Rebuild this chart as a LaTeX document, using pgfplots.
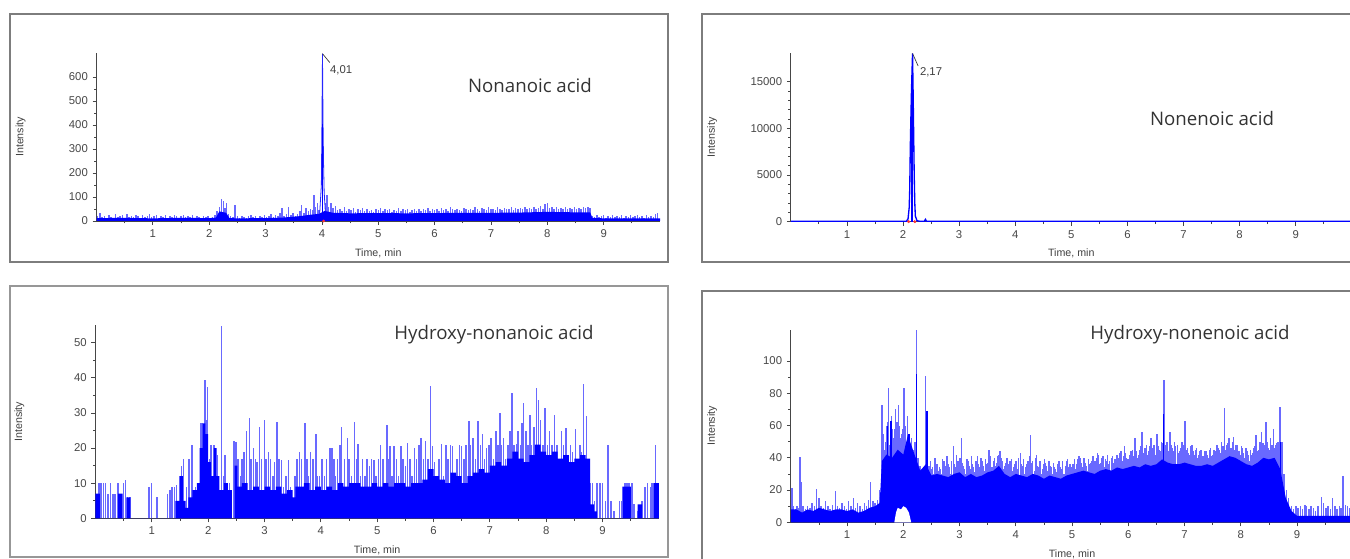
\documentclass[border=0pt]{standalone}
\usepackage{fontspec}
\setmainfont{Liberation Sans}
\newfontfamily\titlefont{Open Sans}
\usepackage{pgfplots}
\pgfplotsset{compat=1.18}
\definecolor{axgray}{RGB}{70,70,70}
\definecolor{framegray}{RGB}{125,125,125}
\definecolor{spike}{RGB}{105,105,255}
\pgfplotsset{chrom/.style={
  scale only axis, anchor=south west,
  axis x line*=bottom, axis y line*=left,
  axis line style={-, draw=axgray, line width=0.9pt},
  xmin=0, xmax=10, ymin=0,
  xtick={1,...,9}, minor xtick={0.5,1.5,...,9.5},
  tick align=outside,
  major tick length=3pt, minor tick length=1.8pt,
  tick style={axgray, line width=0.6pt},
  tick label style={font=\fontsize{8.5}{10}\selectfont, text=black!72},
  /pgf/number format/assume math mode=true,
  scaled y ticks=false,
  yticklabel style={/pgf/number format/.cd, fixed, 1000 sep={}},
  xlabel={Time, min}, ylabel={Intensity},
  label style={font=\fontsize{8}{9}\selectfont, text=black!75},
  xlabel style={at={([yshift=-24pt]axis description cs:0.5,0)}, anchor=center},
  ylabel style={at={([xshift=-57pt]axis description cs:0,0.5)}, anchor=center},
}}
\begin{document}
\begin{tikzpicture}
\path[use as bounding box] (0,0) rectangle (1012.5pt,419.25pt);
\draw[framegray, line width=0.9pt] (7.5pt,222.75pt) rectangle (501pt,408.75pt);
\draw[framegray, line width=0.9pt] (526.5pt,222.75pt) rectangle (1030pt,408.75pt);
\draw[framegray!80, line width=0.9pt] (7.5pt,1.5pt) rectangle (501pt,204.75pt);
\draw[framegray, line width=0.9pt] (526.5pt,-10pt) rectangle (1030pt,201pt);

% ---------------- Panel 1: Nonanoic acid
\begin{axis}[chrom, at={(72.4pt,253.5pt)}, width=422.6pt, height=126pt,
  ymax=700, ytick={0,100,...,600}, minor y tick num=1]
\addplot[ycomb, spike, line width=1.1pt] coordinates {
(0.02,20)(0.06,35)(0.1,15)(0.14,22)(0.18,12)(0.22,25)(0.26,18)(0.3,14)(0.34,28)(0.38,16)(0.42,20)(0.46,24)(0.5,13)(0.54,30)(0.58,18)(0.62,22)(0.66,15)(0.7,26)(0.74,19)(0.78,14)(0.82,24)(0.86,17)(0.9,21)(0.94,28)(0.98,15)(1.02,20)(1.06,25)(1.1,13)(1.14,22)(1.18,18)(1.22,27)(1.26,14)(1.3,20)(1.34,16)(1.38,24)(1.42,19)(1.46,13)(1.5,22)(1.54,26)(1.58,15)(1.62,20)(1.66,17)(1.7,23)(1.74,14)(1.78,21)(1.82,18)(1.86,12)(1.9,19)(1.94,16)(1.98,22)(2.02,14)(2.06,18)(2.1,25)(2.14,40)(2.18,60)(2.22,90)(2.25,82)(2.28,55)(2.31,75)(2.34,30)(2.38,20)(2.42,15)(2.46,68)(2.5,20)(2.54,14)(2.58,22)(2.62,18)(2.66,12)(2.7,20)(2.74,25)(2.78,15)(2.82,19)(2.86,13)(2.9,22)(2.94,17)(2.98,24)(3.02,15)(3.06,20)(3.1,28)(3.14,18)(3.18,25)(3.22,20)(3.26,35)(3.29,53)(3.33,22)(3.37,30)(3.41,60)(3.45,25)(3.49,32)(3.53,20)(3.57,28)(3.61,40)(3.64,67)(3.68,35)(3.72,55)(3.76,40)(3.8,50)(3.83,45)(3.86,108)(3.89,60)(3.92,74)(3.95,45)
(4.06,75)(4.09,110)(4.12,60)(4.16,74)(4.2,55)(4.24,62)(4.28,45)(4.32,50)(4.36,42)(4.4,58)(4.44,40)(4.48,52)(4.52,44)(4.56,55)(4.6,38)(4.64,48)(4.68,45)(4.72,54)(4.76,40)(4.8,50)(4.84,42)(4.88,46)(4.92,38)(4.96,52)(5.0,44)(5.04,56)(5.08,40)(5.12,48)(5.16,45)(5.2,52)(5.24,38)(5.28,46)(5.32,42)(5.36,55)(5.4,40)(5.44,48)(5.48,44)(5.52,50)(5.56,38)(5.6,46)(5.64,52)(5.68,42)(5.72,48)(5.76,40)(5.8,50)(5.84,45)(5.88,55)(5.92,42)(5.96,48)(6.0,44)(6.04,52)(6.08,40)(6.12,56)(6.16,46)(6.2,50)(6.24,42)(6.28,58)(6.32,48)(6.36,44)(6.4,52)(6.44,46)(6.48,40)(6.52,55)(6.56,48)(6.6,44)(6.64,52)(6.68,46)(6.72,60)(6.76,48)(6.8,42)(6.84,55)(6.88,50)(6.92,46)(6.96,58)(7.0,48)(7.04,52)(7.08,44)(7.12,60)(7.16,50)(7.2,46)(7.24,55)(7.28,48)(7.32,52)(7.36,58)(7.4,46)(7.44,54)(7.48,50)(7.52,56)(7.56,48)(7.6,60)(7.64,52)(7.68,55)(7.72,48)(7.76,58)(7.8,50)(7.84,54)(7.88,62)(7.92,52)(7.96,70)(8.0,77)(8.04,56)(8.08,60)(8.12,52)(8.16,58)(8.2,50)(8.24,55)(8.28,48)(8.32,60)(8.36,52)(8.4,56)(8.44,50)(8.48,58)(8.52,52)(8.56,55)(8.6,50)(8.64,58)(8.68,54)(8.72,60)(8.76,56)
(8.8,22)(8.84,18)(8.88,24)(8.92,15)(8.96,20)(9.0,26)(9.04,14)(9.08,22)(9.12,18)(9.16,25)(9.2,15)(9.24,20)(9.28,17)(9.32,24)(9.36,13)(9.4,21)(9.44,18)(9.48,26)(9.52,15)(9.56,20)(9.6,23)(9.64,16)(9.68,22)(9.72,14)(9.76,25)(9.8,18)(9.84,21)(9.88,15)(9.92,28)(9.96,33)};
\addplot[fill=blue, draw=none] coordinates {(0,12)(0.5,13)(1,11)(1.5,13)(2.0,12)(2.12,14)(2.18,40)(2.3,34)(2.36,12)(2.5,11)(3.0,12)(3.3,14)(3.6,20)(3.8,26)(3.95,30)(4.05,42)(4.2,34)(4.5,32)(5,33)(5.5,32)(6,33)(6.5,34)(7,34)(7.5,35)(8,38)(8.5,36)(8.76,36)(8.8,13)(9,11)(10,11)} \closedcycle;
\addplot[blue!85, line width=0.6pt] coordinates {(3.96,30)(3.99,150)(4.0,400)(4.01,697)(4.02,405)(4.03,230)(4.04,120)(4.06,40)};
\addplot[ycomb, blue, line width=1pt] coordinates {(4.01,405)};
\addplot[only marks, mark=*, mark size=0.8pt, red!80] coordinates {(4.03,0)};
\draw[black!80, line width=0.5pt] (axis cs:4.01,697) -- (axis cs:4.14,660);
\node[font=\fontsize{8.5}{10}\selectfont, text=black!75] at (axis cs:4.34,630) {4,01};
\end{axis}

% ---------------- Panel 2: Nonenoic acid
\begin{axis}[chrom, at={(593.1pt,253pt)}, width=420.75pt, height=126.5pt,
  ymax=18100, ytick={0,5000,10000,15000}, minor y tick num=4,
  ylabel style={at={([xshift=-59pt]axis description cs:0,0.5)}, anchor=center}]
\addplot[blue, line width=1pt] coordinates {(0,40)(2.06,40)(2.09,300)(2.11,1500)(2.12,3500)(2.13,8000)(2.14,11000)(2.15,13800)(2.16,16000)(2.17,18050)(2.18,14000)(2.19,9500)(2.2,5000)(2.21,2000)(2.22,600)(2.25,100)(2.3,40)(2.38,40)(2.4,250)(2.42,40)(10,40)};
\addplot[ycomb, blue, line width=1.2pt] coordinates {(2.155,13800)};
\addplot[only marks, mark=*, mark size=0.9pt, red!80] coordinates {(2.1,0)(2.21,0)};
\draw[black!80, line width=0.5pt] (axis cs:2.17,18050) -- (axis cs:2.27,16700);
\node[font=\fontsize{8.5}{10}\selectfont, text=black!75] at (axis cs:2.5,16050) {2,17};
\end{axis}

% ---------------- Panel 3: Hydroxy-nonanoic acid
\begin{axis}[chrom, at={(71.6pt,30.5pt)}, width=422.6pt, height=144.9pt,
  ymax=55, ytick={0,10,...,50}, minor y tick num=1]
\addplot[ycomb, spike, line width=1.1pt] coordinates {
(0.03,7)(0.06,10)(0.1,10)(0.14,10)(0.18,10)(0.22,7)(0.27,10)(0.31,7)(0.35,7)(0.4,10)(0.44,7)(0.5,10)(0.53,11)(0.57,6)(0.61,6)(0.95,9)(0.99,10)(1.09,6)(1.28,7)(1.32,8)(1.36,9)(1.4,9)(1.44,9.5)(1.5,12)(1.53,15)(1.56,17)(1.62,9)(1.66,17)(1.71,21)(1.74,8)(1.78,9)(1.82,10)(1.86,27)(1.89,27)(1.94,39.4)(1.96,28)(1.99,37.5)(2.02,17)(2.05,21)(2.1,20.8)(2.13,12)(2.17,18)(2.24,54.7)(2.27,12)(2.3,18)(2.34,9)(2.38,10)(2.46,22)(2.49,21.7)(2.53,17)(2.57,12)(2.6,17)(2.64,19)(2.68,25)(2.73,28.5)(2.76,17)(2.8,20)(2.84,17)(2.87,16)(2.91,26)(2.95,17)(3.0,28)(3.03,17)(3.07,19)(3.11,17)(3.15,12)(3.18,16)(3.22,27.5)(3.26,17)(3.3,16.6)(3.34,9)(3.38,12)(3.43,16.6)(3.46,9)(3.54,12)(3.58,17)(3.62,19)(3.66,17)(3.72,27)(3.75,17)(3.78,12)(3.82,19)(3.86,17)(3.91,24)(3.94,12)(3.98,12)(4.02,17)(4.06,12)(4.1,17)(4.16,20)(4.2,20)(4.23,17)(4.26,12)(4.3,17)(4.34,21)(4.37,26)(4.42,17)(4.47,22.8)(4.5,17)(4.54,12)(4.6,27.5)(4.63,17)(4.66,21.3)(4.7,12)(4.74,17)(4.78,12)(4.82,17)(4.86,15)(4.9,17)(4.94,16.6)(4.98,12)(5.02,17)(5.06,21)(5.1,17)(5.17,26.7)(5.2,17)(5.23,20.7)(5.26,12)(5.3,20.7)(5.34,17)(5.38,12)(5.42,20.7)(5.46,17)(5.5,15)(5.54,21.5)(5.58,17)(5.62,12)(5.66,20)(5.7,17)(5.74,21)(5.78,23)(5.82,17)(5.86,22)(5.9,17)(5.95,37.7)(5.98,20.7)(6.02,16)(6.06,12)(6.1,17)(6.14,21.3)(6.18,12)(6.22,21)(6.26,17)(6.3,21)(6.34,20.7)(6.38,12)(6.42,17)(6.46,21)(6.5,20.7)(6.54,17)(6.58,21)(6.63,27.7)(6.66,21)(6.7,23)(6.74,17)(6.79,27.7)(6.83,21)(6.87,24)(6.9,17)(6.94,20)(6.98,21)(7.02,23)(7.06,17)(7.11,24.9)(7.14,21)(7.18,30)(7.21,21)(7.24,22.8)(7.28,17)(7.32,21)(7.36,25)(7.39,35.6)(7.43,21)(7.47,21.3)(7.5,25)(7.54,21)(7.57,27)(7.6,32.9)(7.64,25)(7.68,21)(7.71,29.4)(7.74,21)(7.78,26)(7.83,37)(7.86,33.7)(7.9,28)(7.94,21)(7.98,31.3)(8.02,21)(8.06,25)(8.1,21)(8.15,29.4)(8.19,21)(8.23,17)(8.27,25)(8.31,21)(8.35,25.8)(8.39,17)(8.43,21)(8.47,19)(8.52,25.3)(8.56,17)(8.6,21)(8.63,19)(8.66,38.2)(8.71,29)(8.74,17)(8.78,10)(8.82,10)(8.86,5)(8.9,10)(8.95,10)(9.0,10)(9.05,5)(9.1,21)(9.15,5)(9.2,2)(9.3,5)(9.34,5)(9.4,10)(9.43,10)(9.47,10)(9.52,10)(9.56,4)(9.62,2)(9.7,5)(9.75,9)(9.8,10)(9.85,9)(9.88,10)(9.94,21)(9.97,10)};
\addplot[const plot, fill=blue, draw=none] coordinates {(0,7)(0.08,0)(0.4,7)(0.48,0)(0.55,6)(0.62,0)(1.42,5)(1.5,12)(1.55,5)(1.6,3)(1.65,6)(1.72,8)(1.8,10)(1.85,20)(1.9,27)(1.95,24)(2.0,16)(2.05,12)(2.1,20)(2.15,12)(2.2,8)(2.28,10)(2.35,8)(2.42,0)(2.47,15)(2.52,9)(2.6,10)(2.7,8)(2.8,9)(2.9,8)(3.0,9)(3.1,8)(3.2,9)(3.3,7)(3.4,8)(3.5,6)(3.55,9)(3.7,10)(3.8,8)(3.9,9)(4.0,8)(4.1,9)(4.2,8)(4.3,10)(4.4,9)(4.5,10)(4.6,10)(4.7,9)(4.8,9)(4.9,10)(5.0,9)(5.1,10)(5.2,9)(5.3,10)(5.4,10)(5.5,9)(5.6,10)(5.7,10)(5.8,11)(5.9,14)(6.0,12)(6.1,11)(6.2,10)(6.3,13)(6.4,12)(6.5,10)(6.6,12)(6.7,13)(6.8,14)(6.9,13)(7.0,15)(7.1,16)(7.2,15)(7.3,17)(7.4,19)(7.5,17)(7.6,16)(7.7,18)(7.8,21)(7.9,19)(8.0,18)(8.1,19)(8.2,17)(8.3,18)(8.4,16)(8.5,17)(8.6,18)(8.7,17)(8.78,4)(8.85,2)(8.9,0)(9.35,9)(9.5,0)(9.62,4)(9.7,0)(9.9,10)(10,10)} \closedcycle;
\end{axis}

% ---------------- Panel 4: Hydroxy-nonenoic acid
\begin{axis}[chrom, at={(593.1pt,27.5pt)}, width=421.9pt, height=144.6pt,
  ymax=119.5, ytick={0,20,...,100}, minor y tick num=1,
  ylabel style={at={([xshift=-59pt]axis description cs:0,0.5)}, anchor=center}]
\addplot[ycomb, spike, line width=1.1pt] coordinates {
(0.02,21)(0.05,10)(0.08,8)(0.11,10)(0.14,9)(0.16,40.7)(0.19,25)(0.22,10)(0.26,8)(0.3,10)(0.34,9)(0.38,12)(0.42,10)(0.46,20.6)(0.5,15)(0.54,10)(0.58,9)(0.62,13)(0.66,10)(0.7,8)(0.74,11)(0.79,19.6)(0.83,10)(0.87,9)(0.91,12)(0.95,10)(0.99,8)(1.03,13)(1.07,10)(1.11,15)(1.15,9)(1.19,12)(1.23,10)(1.27,8)(1.31,12)(1.35,10)(1.38,14)(1.42,25)(1.46,13)(1.5,12)(1.54,14)(1.58,20)(1.62,73)(1.66,45)(1.7,60)(1.74,83)(1.77,50)(1.8,58)(1.83,42)(1.86,70)(1.89,62)(1.91,73)(1.94,48)(1.97,55)(2.0,65)(2.01,83.5)(2.04,55)(2.07,66)(2.1,50)(2.13,45)(2.16,42)(2.19,38)(2.23,119)(2.26,40)(2.3,35)(2.34,30)(2.39,91)(2.42,69)(2.46,35)(2.5,33)(2.54,30)(2.58,36)(2.62,32)(2.64,34)(2.68,30)(2.72,38)(2.76,32)(2.8,36)(2.84,30)(2.89,47)(2.93,34)(2.97,38)(3.03,52)(3.07,35)(3.11,30)(3.15,38)(3.19,33)(3.23,36)(3.27,31)(3.32,41)(3.36,34)(3.4,38)(3.44,32)(3.48,36)(3.52,45)(3.56,33)(3.6,38)(3.64,35)(3.7,42)(3.74,40)(3.78,33)(3.82,37)(3.86,30)(3.9,38)(3.94,32)(3.98,36)(4.03,33)(4.08,43)(4.12,35)(4.16,30)(4.2,36)(4.26,54)(4.3,38)(4.33,32)(4.37,42)(4.41,34)(4.45,30)(4.49,36)(4.53,37)(4.57,32)(4.61,35)(4.65,30)(4.68,34)(4.72,31)(4.77,38)(4.81,33)(4.86,30)(4.9,38)(4.94,34)(4.98,31)(5.02,36)(5.06,33)(5.1,39)(5.15,40)(5.19,34)(5.23,37)(5.27,32)(5.31,36)(5.35,38)(5.39,34)(5.45,43)(5.49,36)(5.53,40)(5.57,34)(5.61,38)(5.65,36)(5.7,40)(5.74,37)(5.78,35)(5.85,43)(5.89,38)(5.93,47)(5.97,40)(6.01,36)(6.05,44)(6.09,41)(6.12,52)(6.16,40)(6.2,45)(6.24,56)(6.28,42)(6.32,48)(6.36,44)(6.4,52)(6.44,46)(6.48,42)(6.51,55)(6.55,45)(6.59,50)(6.63,88)(6.67,48)(6.71,44)(6.74,56)(6.78,46)(6.82,50)(6.87,48)(6.91,44)(6.95,50)(7.01,63)(7.05,46)(7.09,42)(7.13,48)(7.19,45)(7.23,40)(7.27,44)(7.31,38)(7.34,41)(7.38,44)(7.42,40)(7.46,46)(7.5,42)(7.54,44)(7.58,48)(7.62,45)(7.66,50)(7.71,71)(7.75,48)(7.79,52)(7.83,46)(7.87,53)(7.91,48)(7.95,44)(7.99,42)(8.03,46)(8.07,40)(8.11,44)(8.15,38)(8.19,42)(8.23,46)(8.27,54)(8.31,45)(8.34,50)(8.37,56)(8.41,48)(8.45,62)(8.49,46)(8.53,52)(8.58,58)(8.62,48)(8.66,50)(8.7,71.5)(8.73,50)(8.77,30)(8.81,20)(8.85,15)(8.9,10)(8.94,8)(8.98,10)(9.02,9)(9.06,10)(9.1,8)(9.14,11)(9.17,10)(9.21,8)(9.25,10)(9.29,9)(9.33,7)(9.37,10)(9.43,16)(9.47,12)(9.51,9)(9.55,10)(9.59,8)(9.63,15)(9.67,10)(9.71,8)(9.75,10)(9.78,9)(9.82,28.7)(9.86,11)(9.9,10)(9.94,9)(9.98,10)};
\addplot[ycomb, spike, line width=1.1pt] coordinates {
(1.64,55)(1.68,50)(1.72,62)(1.76,48)(1.79,66)(1.82,52)(1.85,58)(1.88,50)(1.93,60)(1.96,52)(1.99,58)(2.03,60)(2.06,50)(2.09,55)(2.12,48)(2.15,52)(2.18,45)(2.21,50)
(2.48,38)(2.52,34)(2.56,40)(2.6,36)(2.66,33)(2.7,39)(2.74,35)(2.78,41)(2.82,34)(2.86,38)(2.91,36)(2.95,42)(2.99,35)(3.01,40)(3.05,37)(3.09,33)(3.13,39)(3.17,35)(3.21,41)(3.25,34)(3.29,38)(3.34,36)(3.38,40)(3.42,35)(3.46,39)(3.5,37)(3.54,41)(3.58,34)(3.62,40)(3.66,37)(3.68,41)(3.72,44)(3.76,38)(3.8,35)(3.84,40)(3.88,36)(3.92,39)(3.96,34)(4.0,38)(4.05,40)(4.1,36)(4.14,39)(4.18,34)(4.22,38)(4.24,41)(4.28,37)(4.35,40)(4.39,35)(4.43,38)(4.47,33)(4.51,39)(4.55,35)(4.59,38)(4.63,34)(4.67,37)(4.7,33)(4.74,36)(4.79,34)(4.83,38)(4.88,35)(4.92,39)(4.96,36)(5.0,34)(5.04,39)(5.08,36)(5.12,41)(5.17,37)(5.21,40)(5.25,35)(5.29,39)(5.33,37)(5.37,41)(5.41,38)(5.43,40)(5.47,42)(5.51,37)(5.55,41)(5.59,39)(5.63,42)(5.67,38)(5.72,41)(5.76,39)(5.8,42)(5.83,40)(5.87,44)(5.91,41)(5.95,43)(5.99,39)(6.03,42)(6.07,45)(6.1,40)(6.14,44)(6.18,42)(6.22,47)(6.26,43)(6.3,46)(6.34,42)(6.38,47)(6.42,44)(6.46,48)(6.5,43)(6.53,47)(6.57,44)(6.61,49)(6.65,46)(6.69,50)(6.73,45)(6.76,48)(6.8,44)(6.84,47)(6.89,43)(6.93,46)(6.97,44)(6.99,48)(7.03,45)(7.07,43)(7.11,47)(7.15,44)(7.17,42)(7.21,46)(7.25,42)(7.29,45)(7.33,41)(7.36,44)(7.4,42)(7.44,45)(7.48,41)(7.52,45)(7.56,42)(7.6,46)(7.64,43)(7.68,47)(7.73,45)(7.77,49)(7.81,46)(7.85,50)(7.89,45)(7.93,48)(7.97,44)(8.01,47)(8.05,43)(8.09,46)(8.13,42)(8.17,45)(8.21,43)(8.25,47)(8.29,44)(8.33,48)(8.36,45)(8.39,49)(8.43,46)(8.47,50)(8.51,45)(8.55,48)(8.6,46)(8.64,49)(8.68,45)(8.72,47)};
\addplot[fill=blue, draw=none] coordinates {(0,8)(0.1,8)(0.2,6)(0.3,8)(0.4,7)(0.5,9)(0.6,8)(0.7,7)(0.8,8)(0.9,8)(1.0,7)(1.1,8)(1.2,6)(1.3,7)(1.4,9)(1.5,10)(1.58,12)(1.62,38)(1.7,42)(1.8,40)(1.9,45)(2.0,42)(2.08,54)(2.2,42)(2.3,32)(2.4,36)(2.5,29)(2.6,30)(2.7,29)(2.8,28)(2.9,30)(3.0,31)(3.1,28)(3.2,30)(3.3,28)(3.4,29)(3.5,31)(3.6,32)(3.7,35)(3.8,30)(3.9,28)(4.0,30)(4.1,29)(4.2,28)(4.3,30)(4.4,29)(4.5,27)(4.6,29)(4.7,28)(4.8,27)(4.9,29)(5.0,30)(5.1,31)(5.2,32)(5.3,31)(5.4,30)(5.5,32)(5.6,33)(5.7,32)(5.8,34)(5.9,33)(6.0,34)(6.1,35)(6.2,34)(6.3,36)(6.4,35)(6.5,36)(6.6,39)(6.7,37)(6.8,36)(6.9,36)(7.0,37)(7.1,36)(7.2,35)(7.3,35)(7.4,36)(7.5,35)(7.6,37)(7.7,39)(7.8,41)(7.9,40)(8.0,38)(8.1,36)(8.2,35)(8.3,37)(8.4,40)(8.5,39)(8.6,40)(8.7,33)(8.8,15)(8.9,7)(9.0,4)(9.5,4)(10,4)} \closedcycle;
\addplot[ycomb, blue, line width=0.9pt] coordinates {(1.72,60)(1.78,63)(2.1,55)(2.23,92)(2.42,69)(6.63,67)(8.7,50)};
\addplot[fill=white, draw=none] coordinates {(1.84,0)(1.87,6)(1.9,9)(1.96,8)(2.0,10)(2.05,9)(2.1,6)(2.14,0)} \closedcycle;
\end{axis}

\node[font=\titlefont\fontsize{14}{16}\selectfont, text=black!80] at (397.5pt,354.75pt) {Nonanoic acid};
\node[font=\titlefont\fontsize{14}{16}\selectfont, text=black!80] at (909pt,330pt) {Nonenoic acid};
\node[font=\titlefont\fontsize{14}{16}\selectfont, text=black!80] at (370.5pt,168pt) {Hydroxy-nonanoic acid};
\node[font=\titlefont\fontsize{14}{16}\selectfont, text=black!80] at (892.5pt,168pt) {Hydroxy-nonenoic acid};
\end{tikzpicture}
\end{document}
